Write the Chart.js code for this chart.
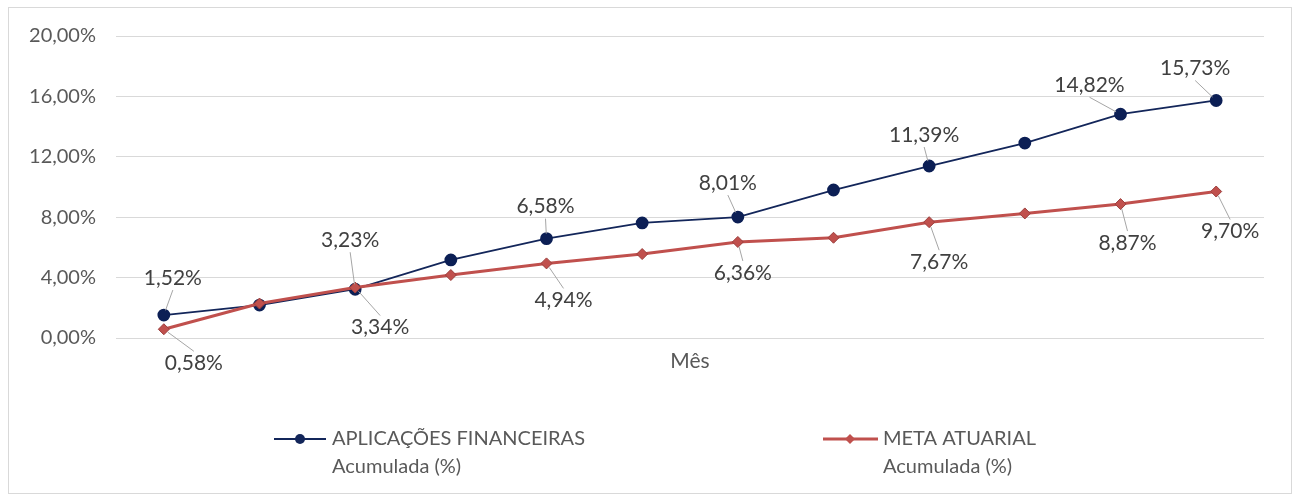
<!DOCTYPE html>
<html>
<head>
<meta charset="utf-8">
<script src="https://cdn.jsdelivr.net/npm/chart.js@4/dist/chart.umd.min.js"></script>
<style>
  html, body { margin: 0; padding: 0; background: #ffffff; }
  #wrap { width: 1298px; height: 494px; }
</style>
</head>
<body>
<div id="wrap"><canvas id="grafico" width="1298" height="494"></canvas></div>
<script>
    // dados (rentabilidade acumulada, %)
    var meses = ['Jan', 'Fev', 'Mar', 'Abr', 'Mai', 'Jun', 'Jul', 'Ago', 'Set', 'Out', 'Nov', 'Dez'];
    var aplicacoes = [1.52, 2.18, 3.23, 5.17, 6.58, 7.62, 8.01, 9.80, 11.39, 12.91, 14.82, 15.73];
    var metaAtuarial = [0.58, 2.28, 3.34, 4.17, 4.94, 5.56, 6.36, 6.64, 7.67, 8.25, 8.87, 9.70];
    var yTicks = [0, 4, 8, 12, 16, 20];

    var nomeAplic = ['APLICAÇÕES FINANCEIRAS', 'Acumulada (%)'];
    var nomeMeta = ['META ATUARIAL', 'Acumulada (%)'];

    // onde fica cada rotulo em relacao ao ponto (null = sem rotulo)
    var rotAplic = [[9, -37], null, [-5, -49], null, [-1, -32], null, [-10, -34], null, [-5, -31], null, [-31, -29], [-21, -32]];
    var rotMeta = [[30, 34], null, [25, 40], null, [17, 37], null, [5, 31], null, [10, 40], null, [7, 39], [14, 40]];

    var corAzul = '#13265a';
    var corVermelho = '#c0504d';
    var fonte = 'Lato, "Liberation Sans", sans-serif';

    function pct(v) {
        return v.toFixed(2).replace('.', ',') + '%';
    }

    var moldura = {
        id: 'moldura',
        beforeDraw: function(chart) {
            var ctx = chart.ctx;
            ctx.save();
            ctx.fillStyle = '#ffffff';
            ctx.fillRect(0, 0, chart.width, chart.height);
            ctx.strokeStyle = '#d9d9d9';
            ctx.lineWidth = 1;
            ctx.strokeRect(8.5, 7.5, 1283, 486);
            ctx.restore();
        }
    };

    var rotulos = {
        id: 'rotulos',
        afterDatasetsDraw: function(chart) {
            var ctx = chart.ctx;
            var listas = [[0, rotAplic], [1, rotMeta]];
            ctx.save();
            ctx.font = '21px ' + fonte;
            ctx.textAlign = 'center';
            ctx.textBaseline = 'middle';
            listas.forEach(function(par) {
                var meta = chart.getDatasetMeta(par[0]);
                var valores = chart.data.datasets[par[0]].data;
                par[1].forEach(function(off, i) {
                    if (!off) return;
                    var p = meta.data[i];
                    var lx = p.x + off[0];
                    var ly = p.y + off[1];
                    // linha guia ate a borda do rotulo
                    var ey = off[1] < 0 ? ly + 12 : ly - 12;
                    var dx = lx - p.x, dy = ey - p.y;
                    var d = Math.sqrt(dx * dx + dy * dy);
                    if (d > 9) {
                        ctx.strokeStyle = '#a6a6a6';
                        ctx.lineWidth = 1;
                        ctx.beginPath();
                        ctx.moveTo(p.x + dx / d * 5, p.y + dy / d * 5);
                        ctx.lineTo(lx, ey);
                        ctx.stroke();
                    }
                    ctx.fillStyle = '#404040';
                    ctx.fillText(pct(valores[i]), lx, ly);
                });
            });
            ctx.restore();
        }
    };

    var legenda = {
        id: 'legenda',
        afterDraw: function(chart) {
            var ctx = chart.ctx;
            ctx.save();
            ctx.font = '20px ' + fonte;
            ctx.textBaseline = 'middle';
            ctx.fillStyle = '#595959';

            // serie 1
            ctx.strokeStyle = corAzul;
            ctx.lineWidth = 2;
            ctx.beginPath();
            ctx.moveTo(274, 439);
            ctx.lineTo(326, 439);
            ctx.stroke();
            ctx.fillStyle = corAzul;
            ctx.beginPath();
            ctx.arc(300, 439, 5, 0, Math.PI * 2);
            ctx.fill();
            ctx.fillStyle = '#595959';
            ctx.fillText(nomeAplic[0], 332, 439);
            ctx.fillText(nomeAplic[1], 332, 467);

            // serie 2
            ctx.strokeStyle = corVermelho;
            ctx.lineWidth = 3;
            ctx.beginPath();
            ctx.moveTo(823, 439);
            ctx.lineTo(878, 439);
            ctx.stroke();
            ctx.fillStyle = corVermelho;
            ctx.beginPath();
            ctx.moveTo(850, 434);
            ctx.lineTo(855, 439);
            ctx.lineTo(850, 444);
            ctx.lineTo(845, 439);
            ctx.closePath();
            ctx.fill();
            ctx.fillStyle = '#595959';
            ctx.fillText(nomeMeta[0], 883, 439);
            ctx.fillText(nomeMeta[1], 883, 467);
            ctx.restore();
        }
    };

    var ctx = document.getElementById('grafico').getContext('2d');
    var grafico = new Chart(ctx, {
        type: 'line',
        data: {
            labels: meses,
            datasets: [{
                label: nomeAplic.join(' '),
                data: aplicacoes,
                borderColor: corAzul,
                backgroundColor: corAzul,
                borderWidth: 1.8,
                pointRadius: 5.5,
                pointBackgroundColor: '#0c1f55',
                pointBorderColor: '#0c1f55',
                pointStyle: 'circle',
                order: 2,
                fill: false
            }, {
                label: nomeMeta.join(' '),
                data: metaAtuarial,
                borderColor: corVermelho,
                backgroundColor: corVermelho,
                borderWidth: 3,
                pointRadius: 5.5,
                pointBackgroundColor: '#c0504d',
                pointBorderColor: '#9c3f3d',
                pointBorderWidth: 1,
                pointStyle: 'rectRot',
                order: 1,
                fill: false
            }]
        },
        options: {
            responsive: false,
            animation: false,
            layout: {
                padding: { left: 8, right: 34, top: 36, bottom: 116 }
            },
            scales: {
                x: {
                    offset: true,
                    grid: { display: false },
                    border: { display: false },
                    ticks: { display: false },
                    title: {
                        display: true,
                        text: 'Mês',
                        color: '#595959',
                        font: { family: fonte, size: 21 }
                    },
                    afterFit: function(scale) { scale.height = 40; }
                },
                y: {
                    min: 0,
                    max: 20,
                    afterBuildTicks: function(scale) {
                        scale.ticks = yTicks.map(function(v) { return { value: v }; });
                    },
                    grid: { color: '#d9d9d9', lineWidth: 1, drawTicks: false },
                    border: { display: false },
                    ticks: {
                        padding: 20,
                        color: '#595959',
                        font: { family: fonte, size: 20 },
                        callback: function(v) { return pct(v); }
                    },
                    afterFit: function(scale) { scale.width = 108; }
                }
            },
            plugins: {
                legend: { display: false },
                tooltip: { enabled: false }
            }
        },
        plugins: [moldura, rotulos, legenda]
    });
</script>
</body>
</html>
